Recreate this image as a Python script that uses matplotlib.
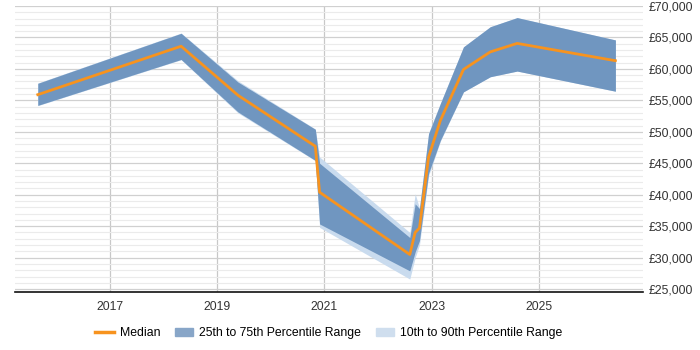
import matplotlib
matplotlib.use('Agg')
import matplotlib.pyplot as plt
from matplotlib.patches import Patch
from matplotlib.lines import Line2D
from matplotlib.ticker import FuncFormatter, MultipleLocator

plt.rcParams['font.family'] = ['Liberation Sans', 'DejaVu Sans']

# decimal years
years = [2015.66, 2018.33, 2019.39, 2020.83, 2020.91, 2022.59, 2022.69, 2022.77,
         2022.94, 2023.16, 2023.59, 2024.09, 2024.59, 2026.42]
median = [55900, 63600, 55800, 47700, 40400, 30500, 34000, 34700,
          46000, 51800, 59900, 62700, 64050, 61300]
p25 = [54200, 61500, 53150, 45450, 35350, 27900, 30900, 32700,
       43400, 48650, 56350, 58750, 59650, 56450]
p75 = [57700, 65650, 57900, 50400, 45000, 33200, 38550, 37800,
       49700, 54500, 63500, 66700, 68150, 64600]
p10 = [54150, 61450, 53000, 45400, 34800, 26600, 30000, 32000,
       43000, 48500, 56350, 58750, 59650, 56450]
p90 = [57750, 65700, 58100, 50450, 46000, 34000, 40150, 37900,
       49800, 54550, 63500, 66700, 68150, 64600]
xticks = [2017, 2019, 2021, 2023, 2025]

fig = plt.figure(figsize=(7, 3.5), dpi=100)
ax = fig.add_axes([0.021, 0.165, 0.898, 0.818])

ax.fill_between(years, p10, p90, color='#c9dbee', lw=0, zorder=2)
ax.fill_between(years, p25, p75, color='#7096c0', lw=0, zorder=3)
ax.plot(years, median, color='#f7931e', lw=2, zorder=4)

ax.set_xlim(2015.23, 2026.94)
ax.set_ylim(24500, 70000)
ax.set_xticks(xticks)
ax.yaxis.set_major_locator(MultipleLocator(5000))
ax.yaxis.set_minor_locator(MultipleLocator(1000))
ax.yaxis.set_major_formatter(FuncFormatter(lambda v, p: '£{:,.0f}'.format(v)))
ax.yaxis.tick_right()
ax.grid(which='minor', axis='y', color='#ebebeb', lw=0.8, zorder=0)
ax.grid(which='major', axis='y', color='#d0d0d0', lw=0.9, zorder=0)
ax.grid(which='major', axis='x', color='#c8c8c8', lw=0.9, zorder=0)
ax.tick_params(which='both', length=0, labelsize=8.8, colors='#333333')
ax.tick_params(axis='x', pad=6)
for s in ['left', 'right', 'top']:
    ax.spines[s].set_visible(False)
ax.spines['bottom'].set_color('#111111')
ax.spines['bottom'].set_linewidth(1.2)

handles = [Line2D([], [], color='#f7931e', lw=2.5),
           Patch(color='#88a6c8'),
           Patch(color='#cfdeee')]
labels = ['Median', '25th to 75th Percentile Range', '10th to 90th Percentile Range']
fig.legend(handles, labels, loc='center', bbox_to_anchor=(0.47, 0.048), ncol=3,
           frameon=False, fontsize=8.8, handlelength=1.5, columnspacing=1.2,
           handletextpad=0.5)

fig.savefig('out.png', dpi=100)
